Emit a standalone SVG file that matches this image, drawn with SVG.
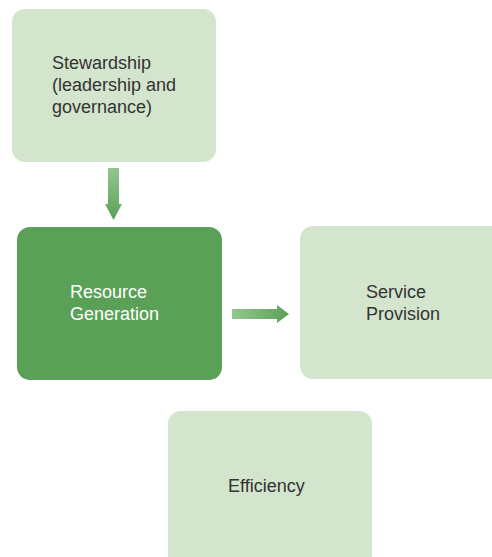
<svg xmlns="http://www.w3.org/2000/svg" width="492" height="557" viewBox="0 0 492 557">
<style>
.light{fill:#d3e5cd}
.dark{fill:#5aa157}
.t{font-family:"Liberation Sans",Arial,sans-serif;font-size:18px}
.td{fill:#333333}
.tw{fill:#ffffff}
</style>
<defs>
<linearGradient id="gDown" x1="0" y1="0" x2="0" y2="1">
<stop offset="0" stop-color="#93c68f"/>
<stop offset="1" stop-color="#5aa157"/>
</linearGradient>
<linearGradient id="gRight" x1="0" y1="0" x2="1" y2="0">
<stop offset="0" stop-color="#93c68f"/>
<stop offset="1" stop-color="#5aa157"/>
</linearGradient>
</defs>
<rect width="492" height="557" fill="#ffffff"/>
<g id="stewardship">
<rect class="light" x="12" y="9" width="204" height="153" rx="13"/>
<text class="t td" x="52" y="69">Stewardship</text>
<text class="t td" x="52" y="91">(leadership and</text>
<text class="t td" x="52" y="113">governance)</text>
</g>
<g id="resource">
<rect class="dark" x="17" y="227" width="205" height="153" rx="13"/>
<text class="t tw" x="70" y="298">Resource</text>
<text class="t tw" x="70" y="320">Generation</text>
</g>
<g id="service">
<rect class="light" x="300" y="226" width="205" height="153" rx="13"/>
<text class="t td" x="366" y="298">Service</text>
<text class="t td" x="366" y="320">Provision</text>
</g>
<g id="efficiency">
<rect class="light" x="168" y="411" width="204" height="160" rx="13"/>
<text class="t td" x="228" y="492">Efficiency</text>
</g>
<g id="connectors">
<polygon fill="url(#gDown)" points="108,168 119,168 119,204 122,204 113.5,220 105,204 108,204"/>
<polygon fill="url(#gRight)" points="232,309 277,309 277,305 289,314 277,323 277,319 232,319"/>
</g>
</svg>
